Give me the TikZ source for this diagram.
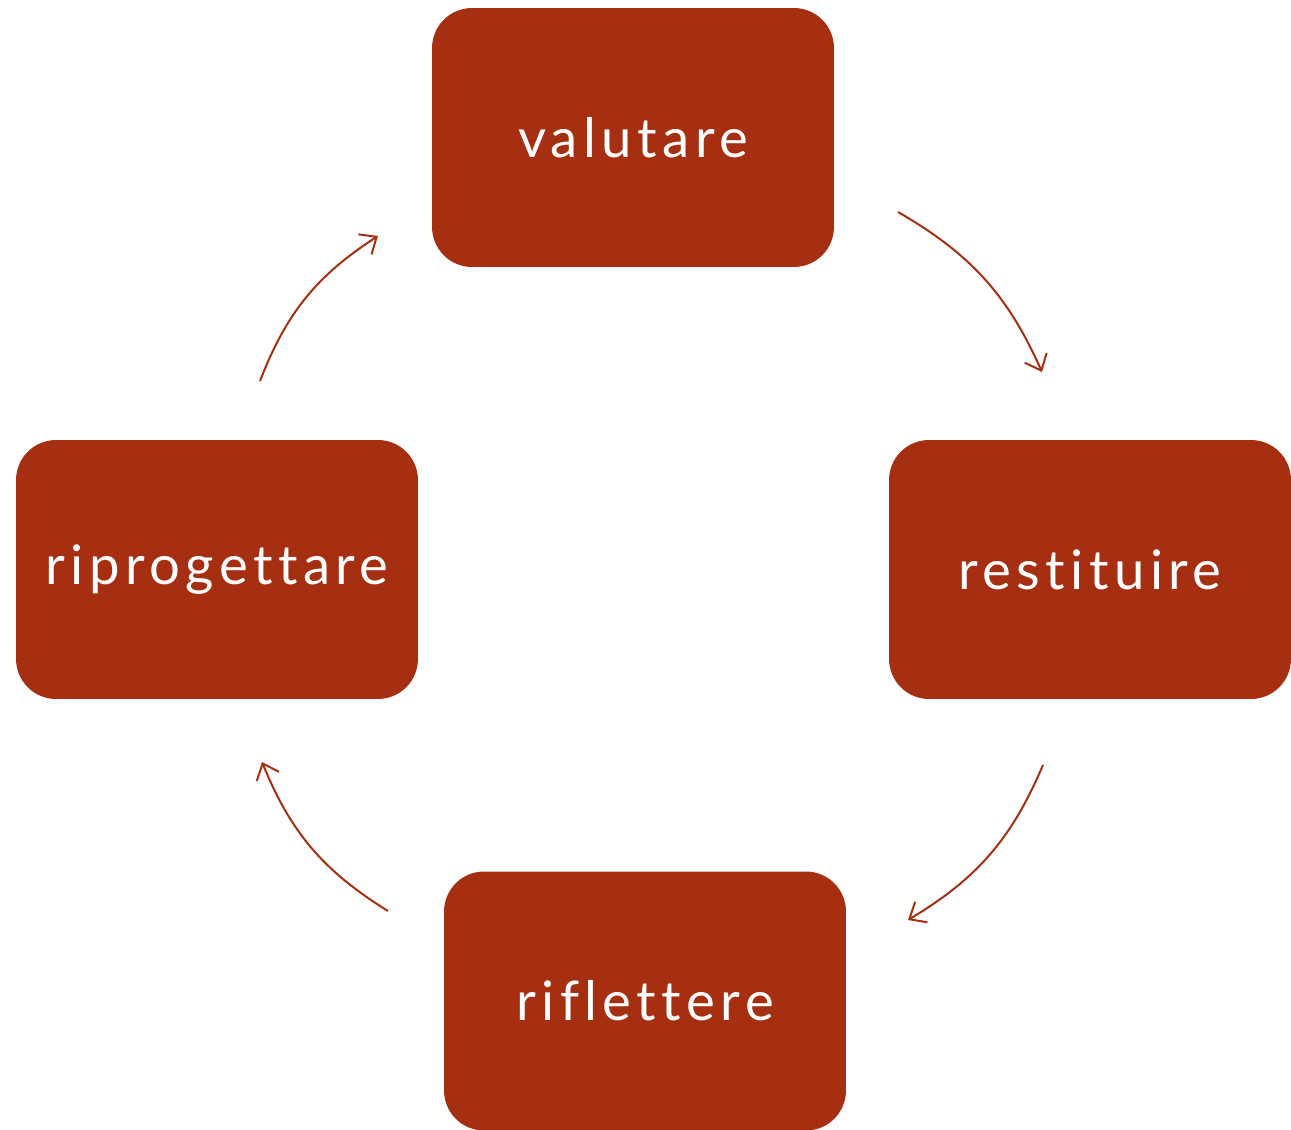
\documentclass[tikz,border=0pt]{standalone}
\usepackage{fontspec}
\setmainfont{Lato}[LetterSpace=10, Ligatures=NoCommon]
\usepackage{tikz}
\usetikzlibrary{arrows.meta, positioning}
\definecolor{rust}{RGB}{165,47,16}

\begin{document}
\begin{tikzpicture}[x=0.02cm, y=-0.02cm,
    box/.style={fill=rust, rounded corners=0.8cm, minimum width=8.04cm,
      minimum height=5.18cm, text=white, font=\fontsize{31}{36}\selectfont},
    cycle/.style={-{Straight Barb[length=0.28cm, width=0.48cm]}, rust,
      line width=0.04cm, bend left=18}]
  \useasboundingbox (0,0) rectangle (1291,1129);
  \node[box] (valutare) at (633,137.5) {valutare};
  \node[box] (restituire) at (1090,569.5) {restituire};
  \node[box] (riflettere) at (645,1001) {riflettere};
  \node[box] (riprogettare) at (217,569.5) {riprogettare};
  % free ends of the curved arrows
  \coordinate (a1) at (898,212);  \coordinate (b1) at (1042,372);
  \coordinate (a2) at (1043,765); \coordinate (b2) at (908,920);
  \coordinate (a3) at (388,911);  \coordinate (b3) at (262,762);
  \coordinate (a4) at (260,381);  \coordinate (b4) at (378,236);
  \foreach \i in {1,...,4} {
    \draw[cycle] (a\i) to (b\i);
  }
\end{tikzpicture}
\end{document}
